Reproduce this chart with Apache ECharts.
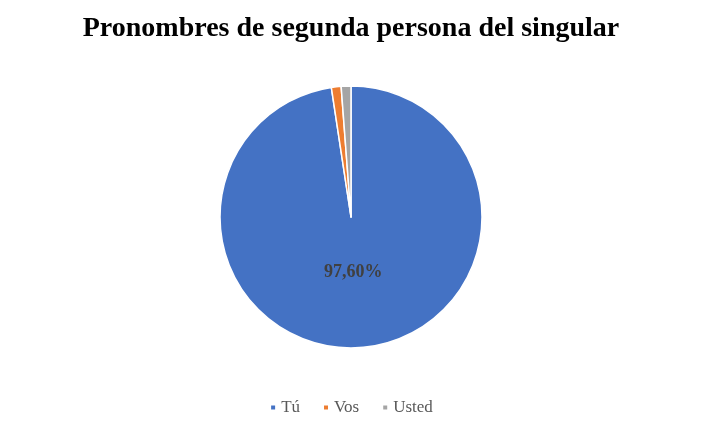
<!DOCTYPE html>
<html>
<head>
<meta charset="utf-8">
<script src="https://cdn.jsdelivr.net/npm/echarts@6/dist/echarts.min.js"></script>
<style>
html, body { margin: 0; padding: 0; background: #fff; }
#myChart { width: 702px; height: 433px; }
</style>
</head>
<body>
<div id="myChart"></div>
<script>
// datos del gráfico
const categorias = ['Tú', 'Vos', 'Usted'];
const valores = [97.6, 1.2, 1.2];
const colores = ['#4472C4', '#ED7D31', '#A5A5A5'];

let myChart = echarts.init(document.getElementById('myChart'));
myChart.setOption({
    animation: false,
    title: {
        text: 'Pronombres de segunda persona del singular',
        left: 'center',
        top: 10,
        textStyle: {
            fontFamily: 'Liberation Serif',
            fontSize: 28,
            fontWeight: 'bold',
            color: '#000'
        }
    },
    legend: {
        bottom: 12,
        left: 'center',
        itemWidth: 6,
        itemHeight: 6,
        itemGap: 22,
        icon: 'rect',
        textStyle: {
            fontFamily: 'Liberation Serif',
            fontSize: 17,
            color: '#595959'
        },
        data: categorias
    },
    series: [{
        type: 'pie',
        center: [351, 217],
        radius: 131,
        startAngle: 90,
        clockwise: true,
        itemStyle: { borderColor: '#fff', borderWidth: 1.5 },
        label: {
            show: true,
            position: 'inside',
            fontFamily: 'Liberation Serif',
            fontSize: 18,
            fontWeight: 'bold',
            color: '#404040',
            formatter: function (p) {
                return p.dataIndex === 0 ? p.value.toFixed(2).replace('.', ',') + '%' : '';
            }
        },
        labelLayout: { dy: -13, dx: -3 },
        labelLine: { show: false },
        data: categorias.map((c, i) => ({
            name: c,
            value: valores[i],
            itemStyle: { color: colores[i] }
        }))
    }]
});
</script>
</body>
</html>
